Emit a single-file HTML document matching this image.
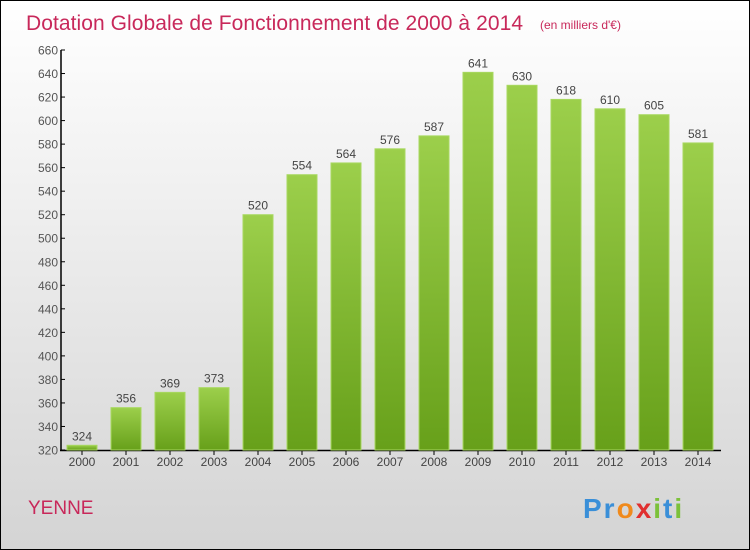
<!DOCTYPE html>
<html><head><meta charset="utf-8"><style>
body{margin:0}
#c{width:750px;height:550px;position:relative;overflow:hidden}
</style></head><body>
<div id="c">
<svg width="750" height="550" xmlns="http://www.w3.org/2000/svg" font-family="Liberation Sans, sans-serif">
<defs>
<linearGradient id="bg" x1="0" y1="0" x2="0" y2="1"><stop offset="0" stop-color="#ffffff"/><stop offset="1" stop-color="#d4d4d4"/></linearGradient>
<linearGradient id="bar" x1="0" y1="0" x2="0" y2="1"><stop offset="0" stop-color="#9ccf4b"/><stop offset="1" stop-color="#67a01a"/></linearGradient>
</defs>
<rect x="0.5" y="0.5" width="749" height="549" fill="url(#bg)" stroke="#000"/>
<text x="26" y="30" font-size="21" fill="#c8285a" textLength="497" lengthAdjust="spacing">Dotation Globale de Fonctionnement de 2000 à 2014</text>
<text x="540" y="29" font-size="12" fill="#c8285a">(en milliers d'€)</text>
<g id="ax"></g>
<g id="bars"></g>
<text x="28" y="514" font-size="19" fill="#c8285a">YENNE</text>
<text x="583" y="518" font-size="28" font-weight="bold" letter-spacing="2"><tspan fill="#3a8fd8">Pr</tspan><tspan fill="#f08a1c">o</tspan><tspan fill="#e03030">x</tspan><tspan fill="#7cc13a">i</tspan><tspan fill="#3a8fd8">t</tspan><tspan fill="#7cc13a">i</tspan></text>
</svg>
</div>
<script>
const years=["2000","2001","2002","2003","2004","2005","2006","2007","2008","2009","2010","2011","2012","2013","2014"];
const values=[324,356,369,373,520,554,564,576,587,641,630,618,610,605,581];
const yTicks=[320,340,360,380,400,420,440,460,480,500,520,540,560,580,600,620,640,660];
const NS="http://www.w3.org/2000/svg";
const y=v=>450-(v-320)*400/340;
const x=i=>82+i*44;
function mk(t,a,p){const e=document.createElementNS(NS,t);for(const k in a)e.setAttribute(k,a[k]);p.appendChild(e);return e;}
const ax=document.getElementById('ax'),bars=document.getElementById('bars');
let l=mk('line',{x1:61,y1:50,x2:61,y2:451,stroke:'#000','stroke-width':1.5},ax);


l=mk('line',{x1:60,y1:450.5,x2:721,y2:450.5,stroke:'#000','stroke-width':1.5},ax);


yTicks.forEach(v=>{
 mk('line',{x1:61,x2:65,y1:y(v),y2:y(v),stroke:'#000'},ax);
 const t=mk('text',{x:58,y:y(v)+4.5,'font-size':12,fill:'#555','text-anchor':'end'},ax);t.textContent=v;
 
 
});
years.forEach((yr,i)=>{
 const r=mk('rect',{x:x(i)-15,y:y(values[i]),width:30,height:450-y(values[i]),fill:'url(#bar)',stroke:'#a8d860','stroke-width':1},bars);
 
 
 const v=mk('text',{x:x(i),y:y(values[i])-5,'font-size':12,fill:'#444','text-anchor':'middle'},bars);v.textContent=values[i];
 
 
 mk('line',{x1:x(i),x2:x(i),y1:450,y2:455,stroke:'#000'},ax);
 const t=mk('text',{x:x(i),y:466,'font-size':12,fill:'#444','text-anchor':'middle'},ax);t.textContent=yr;
 
 
});
</script>
</body></html>
